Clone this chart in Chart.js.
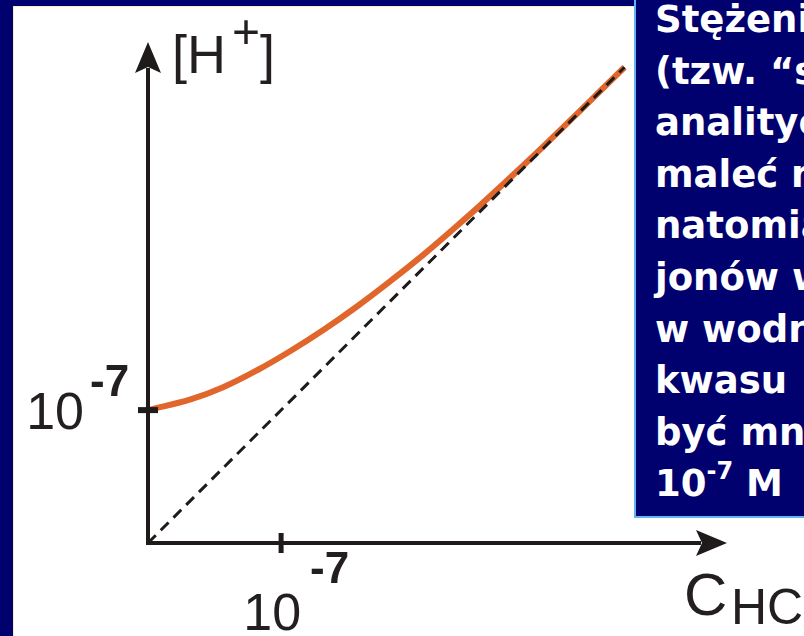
<!DOCTYPE html>
<html>
<head>
<meta charset="utf-8">
<script src="https://cdn.jsdelivr.net/npm/chart.js@4.4.1/dist/chart.umd.min.js"></script>
<style>
  html, body { margin: 0; padding: 0; width: 804px; height: 636px; overflow: hidden; background: #00006e; }
  #panel { position: absolute; left: 13px; top: 6px; right: 0; bottom: 0; background: #fff; border-left: 1px solid #f3efc2; border-top: 1px solid #f3efc2; }
  #wykres { position: absolute; left: 0; top: 0; }
  #ramka { position: absolute; left: 634px; top: -2px; width: 200px; height: 520px; background: #00006e;
           border-left: 2px solid #5fb6f2; border-bottom: 2px solid #5fb6f2; padding-left: 19px; box-sizing: border-box;
           color: #fff; font-family: "DejaVu Sans", sans-serif; font-weight: bold; font-size: 37px; white-space: nowrap; overflow: hidden; }
  #ramka div { height: 51.6px; line-height: 51.6px; }
  #ramka .sup { font-size: 24px; line-height: 10px; vertical-align: 17px; }
</style>
</head>
<body>
<div id="panel"></div>
<canvas id="wykres" width="804" height="636"></canvas>
<div id="ramka">
  <div style="margin-top:-4px">Stężenie</div>
  <div>(tzw. “stężenie</div>
  <div>analityczne</div>
  <div>maleć nie</div>
  <div>natomiast</div>
  <div>jonów w</div>
  <div>w wodnym</div>
  <div>kwasu</div>
  <div>być mniejsze</div>
  <div>10<span class="sup">-7</span> M</div>
</div>
<script>
// stężenie HCl (w jednostkach 1e-7 M) i odczytane [H+]
const stezenieHCl = [0, 0.32, 0.56, 0.82, 1.07, 1.32, 1.57, 1.82, 2.07, 2.32, 2.50, 2.95, 3.58];
const stezenieH = [1.0, 1.08, 1.17, 1.30, 1.445, 1.605, 1.78, 1.97, 2.17, 2.385, 2.545, 2.965, 3.58];

// linia przerywana [H+] = C
const prostaX = [0, 3.58];
const prostaY = [0, 3.58];

// zakresy osi i podziałki
const osX = { min: 0, max: 4.35 };
const osY = { min: 0, max: 3.77 };
const podzialkiX = [1];
const podzialkiY = [1];
const podstawa = '10';
const wykladnik = '-7';

const punktyKrzywej = stezenieHCl.map((c, i) => ({ x: c, y: stezenieH[i] }));
const punktyProstej = prostaX.map((c, i) => ({ x: c, y: prostaY[i] }));

function strzalka(ctx, x, y, kierunek) {
    // kierunek: 'gora' albo 'prawo'
    ctx.beginPath();
    if (kierunek === 'gora') {
        ctx.moveTo(x, y);
        ctx.lineTo(x - 13, y + 31);
        ctx.lineTo(x, y + 25);
        ctx.lineTo(x + 13, y + 31);
    } else {
        ctx.moveTo(x, y);
        ctx.lineTo(x - 31, y - 13);
        ctx.lineTo(x - 25, y);
        ctx.lineTo(x - 31, y + 13);
    }
    ctx.closePath();
    ctx.fill();
}

function tekst(ctx, napis, x, y, font, wyrownanie) {
    ctx.font = font;
    ctx.textAlign = wyrownanie || 'left';
    ctx.textBaseline = 'alphabetic';
    ctx.fillText(napis, x, y);
}

const osie = {
    id: 'osie',
    afterDatasetsDraw(chart) {
        const ctx = chart.ctx;
        const xs = chart.scales.x;
        const ys = chart.scales.y;
        const x0 = xs.getPixelForValue(osX.min);
        const y0 = ys.getPixelForValue(osY.min);
        const xKoniec = xs.getPixelForValue(osX.max);
        const yKoniec = ys.getPixelForValue(osY.max);

        ctx.save();
        ctx.strokeStyle = '#1f1b1b';
        ctx.fillStyle = '#1f1b1b';
        ctx.lineWidth = 4;
        ctx.lineCap = 'butt';

        // osie ze strzałkami
        ctx.beginPath();
        ctx.moveTo(x0, y0 + 2);
        ctx.lineTo(x0, yKoniec + 26);
        ctx.moveTo(x0 - 2, y0);
        ctx.lineTo(xKoniec - 26, y0);
        ctx.stroke();
        strzalka(ctx, x0, yKoniec, 'gora');
        strzalka(ctx, xKoniec, y0, 'prawo');

        // kreski podziałek
        ctx.lineWidth = 5;
        podzialkiX.forEach(v => {
            const px = xs.getPixelForValue(v);
            ctx.beginPath();
            ctx.moveTo(px, y0 - 10);
            ctx.lineTo(px, y0 + 10);
            ctx.stroke();
        });
        ctx.lineWidth = 6;
        podzialkiY.forEach(v => {
            const py = ys.getPixelForValue(v);
            ctx.beginPath();
            ctx.moveTo(x0 - 10, py);
            ctx.lineTo(x0 + 10, py);
            ctx.stroke();
        });

        // opisy podziałek
        ctx.fillStyle = '#231f20';
        podzialkiY.forEach(v => {
            const py = ys.getPixelForValue(v);
            tekst(ctx, podstawa, x0 - 64, py + 19, '52px "Liberation Sans", Arial', 'right');
            tekst(ctx, wykladnik, x0 - 58, py - 14, 'bold 44px "Liberation Sans", Arial');
        });
        podzialkiX.forEach(v => {
            const px = xs.getPixelForValue(v);
            tekst(ctx, podstawa, px + 20, y0 + 87, '52px "Liberation Sans", Arial', 'right');
            tekst(ctx, wykladnik, px + 29, y0 + 40, 'bold 44px "Liberation Sans", Arial');
        });

        // tytuły osi
        tekst(ctx, '[H', x0 + 24, yKoniec + 31, '54px "Liberation Sans", Arial');
        tekst(ctx, '+', x0 + 84, yKoniec + 6, '48px "Liberation Sans", Arial');
        tekst(ctx, ']', x0 + 112, yKoniec + 31, '54px "Liberation Sans", Arial');
        tekst(ctx, 'C', x0 + 536, y0 + 72, '60px "Liberation Sans", Arial');
        tekst(ctx, 'HCl', x0 + 583, y0 + 81, '50px "Liberation Sans", Arial');
        ctx.restore();
    }
};

new Chart(document.getElementById('wykres').getContext('2d'), {
    type: 'scatter',
    data: {
        datasets: [
            {
                label: '[H+] = C',
                data: punktyProstej,
                showLine: true,
                borderColor: '#1f1b1b',
                borderWidth: 3,
                borderDash: [11, 7],
                pointRadius: 0,
                clip: false
            },
            {
                label: '[H+]',
                data: punktyKrzywej,
                showLine: true,
                borderColor: '#e0662c',
                borderWidth: 6,
                tension: 0.4,
                pointRadius: 0,
                clip: false
            }
        ]
    },
    options: {
        responsive: false,
        animation: false,
        layout: { padding: { left: 148, right: 77, top: 42, bottom: 93 } },
        scales: {
            x: { type: 'linear', min: osX.min, max: osX.max, display: false },
            y: { type: 'linear', min: osY.min, max: osY.max, display: false }
        },
        plugins: {
            legend: { display: false },
            tooltip: { enabled: false }
        }
    },
    plugins: [osie]
});
</script>
</body>
</html>
